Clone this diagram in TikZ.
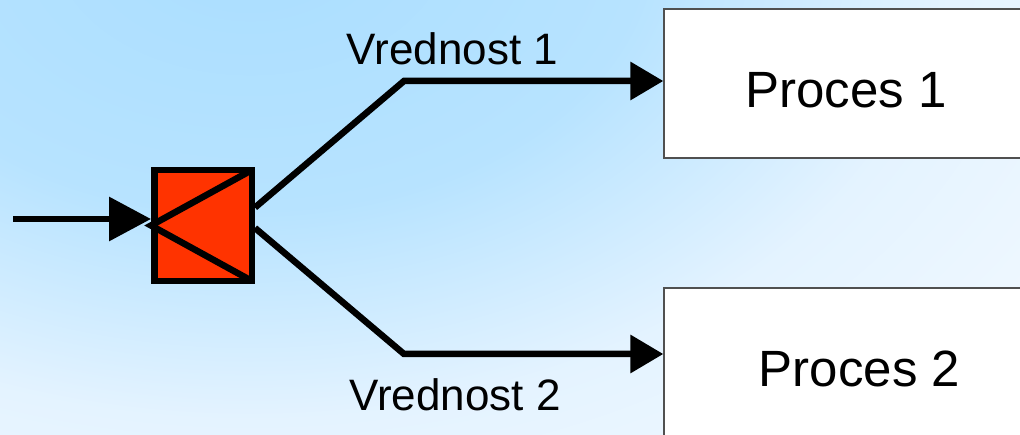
\documentclass[tikz,border=0pt]{standalone}
\usepackage{fontspec}
\setmainfont{Liberation Sans}
\usetikzlibrary{arrows.meta}

\definecolor{bgA}{RGB}{170,222,255}
\definecolor{bgB}{RGB}{183,227,255}
\definecolor{bgC}{RGB}{228,243,255}
\definecolor{bgD}{RGB}{242,249,255}
\definecolor{swred}{RGB}{255,51,0}
\definecolor{boxgray}{RGB}{80,80,80}
\pgfdeclareradialshading{bgglow}{\pgfpoint{0bp}{0bp}}{color(0bp)=(bgA); color(9bp)=(bgB); color(16bp)=(bgC); color(23bp)=(bgD); color(50bp)=(bgD)}

\begin{document}
\begin{tikzpicture}[x=1pt,y=-1pt,
    every node/.style={inner sep=0pt},
    procbox/.style={draw=boxgray, line width=1.3pt, fill=white, minimum width=376pt},
    switchbox/.style={draw=black, line width=6.5pt, fill=swred, minimum width=97.5pt, minimum height=111pt},
    wire/.style={black, line width=6.5pt},
    arr/.style={wire, -{Triangle[length=33pt,width=37pt]}},
    valtext/.style={font=\fontsize{44}{50}\selectfont},
    proctext/.style={font=\fontsize{51}{58}\selectfont}]
  \useasboundingbox (0,0) rectangle (1020,435);
  \clip (0,0) rectangle (1020,435);
  % background
  \fill[bgD] (0,0) rectangle (1020,435);
  \shade[shading=bgglow] (250,-60) ellipse (1100pt and 750pt);
  % processes
  \node[procbox, minimum height=149pt] (p1) at (852,83.5) {};
  \node[proctext] (t1) at (846,90) {Proces 1};
  \node[procbox, minimum height=172pt] (p2) at (852,374) {};
  \node[proctext] (t2) at (859.5,369) {Proces 2};
  % switch
  \node[switchbox] (sw) at (203,225.5) {};
  \draw[wire] ([shift={(-3.5pt,-3.5pt)}]sw.north east) -- (sw.west) -- ([shift={(-3.5pt,3.5pt)}]sw.south east);
  % input
  \coordinate (src) at (13,219);
  \draw[wire, -{Triangle[length=42pt,width=43pt]}] (src) -- (src -| sw.west);
  % branches
  \coordinate (k1) at (404,81);
  \coordinate (k2) at (404,354);
  \draw[arr] ([yshift=18pt]sw.east) -- (k1) -- (k1 -| p1.west);
  \draw[arr] ([yshift=-2.5pt]sw.east) -- (k2) -- (k2 -| p2.west);
  \node[valtext] (v1) at (452.5,49) {Vrednost 1};
  \node[valtext] (v2) at (455,395) {Vrednost 2};
\end{tikzpicture}
\end{document}
